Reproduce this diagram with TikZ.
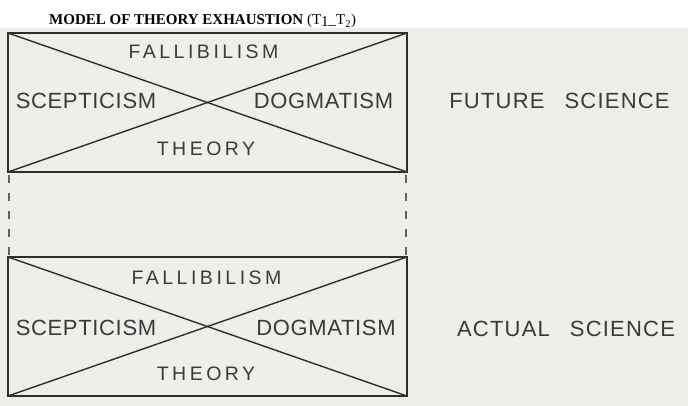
\documentclass[tikz,border=0pt]{standalone}
\usepackage{fontspec}
\setmainfont{Liberation Serif}
\newfontfamily\dinsmall[LetterSpace=18]{Liberation Sans}
\newfontfamily\dinbig[LetterSpace=3]{Liberation Sans}
\newfontfamily\dinsci[LetterSpace=5.5]{Liberation Sans}
\usetikzlibrary{positioning, calc}
\definecolor{paper}{HTML}{EFEEEB}
\definecolor{ink}{HTML}{2E2E2E}
\definecolor{print}{HTML}{3A3A3A}

\begin{document}
\begin{tikzpicture}[x=1pt, y=-1pt,
		modelbox/.style={draw=ink, line width=1.8pt, minimum width=399pt, minimum height=139pt, inner sep=0pt, outer sep=0pt},
		diag/.style={draw=ink, line width=1.4pt},
		link/.style={draw=ink!75, line width=1.1pt, dash pattern=on 8pt off 10pt},
		termsmall/.style={text=print, inner sep=0pt, font=\dinsmall\fontsize{19.5}{20}\selectfont},
		termbig/.style={text=print, inner sep=0pt, font=\dinbig\fontsize{22}{24}\selectfont},
		science/.style={text=print, inner sep=0pt, font=\dinsci\fontsize{22}{24}\selectfont}
	]
	\fill[white] (0,0) rectangle (688,406);
	\fill[paper] (0,28) rectangle (688,406);
	\useasboundingbox (0,0) rectangle (688,406);

	\node[anchor=base west, inner sep=0pt, font=\fontsize{15}{17}\selectfont] (title) at (49,25)
		{\textbf{MODEL OF THEORY EXHAUSTION} (T\raisebox{-2pt}{1}\_T\textsubscript{2})};

	% future science (upper box)
	\node[modelbox] (futurebox) at (207.5,102.5) {};
	\draw[diag] (futurebox.north west) -- (futurebox.south east);
	\draw[diag] (futurebox.south west) -- (futurebox.north east);
	\node[termsmall] (fallF) at ($(futurebox.center)+(-4,-50.5)$) {FALLIBILISM};
	\node[termbig] (scepF) at ($(futurebox.center)+(-121.5,-1.5)$) {SCEPTICISM};
	\node[termbig] (dogmF) at ($(futurebox.center)+(116,-1.5)$) {DOGMATISM};
	\node[termsmall] (theoF) at ($(futurebox.center)+(-1.5,46)$) {THEORY};
	\node[science] (future) at ($(futurebox.east)+(152.5,-2)$) {FUTURE\hspace{20pt}SCIENCE};

	% actual science (lower box)
	\node[modelbox, below=85pt of futurebox] (actualbox) {};
	\draw[diag] (actualbox.north west) -- (actualbox.south east);
	\draw[diag] (actualbox.south west) -- (actualbox.north east);
	\node[termsmall] (fallA) at ($(actualbox.center)+(-1,-49)$) {FALLIBILISM};
	\node[termbig] (scepA) at ($(actualbox.center)+(-121.5,1.5)$) {SCEPTICISM};
	\node[termbig] (dogmA) at ($(actualbox.center)+(118.5,1)$) {DOGMATISM};
	\node[termsmall] (theoA) at ($(actualbox.center)+(-1.5,47.5)$) {THEORY};
	\node[science] (actual) at ($(actualbox.east)+(159,2)$) {ACTUAL\hspace{20pt}SCIENCE};

	% T1 -- T2 links
	\draw[link] ($(futurebox.south west)+(1,3)$) -- ($(actualbox.north west)+(1,-2)$);
	\draw[link] ($(futurebox.south east)+(-1,3)$) -- ($(actualbox.north east)+(-1,-2)$);
\end{tikzpicture}
\end{document}
